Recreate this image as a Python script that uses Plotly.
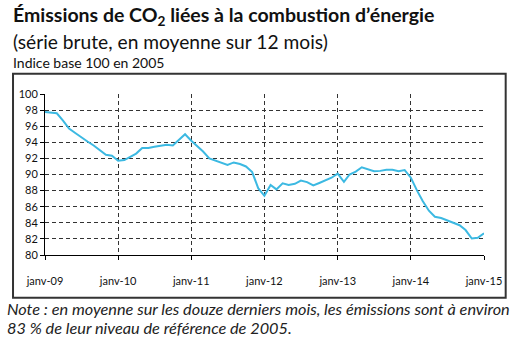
import plotly.graph_objects as go
import pandas as pd

# Monthly index values (base 100 in 2005), Jan 2009 -> Jan 2015
emissions = [
    97.75, 97.7, 97.6, 96.7, 95.7, 95.15, 94.6, 94.1, 93.6, 93.0, 92.45, 92.33,
    91.7, 91.8, 92.2, 92.6, 93.3, 93.3, 93.45, 93.6, 93.7, 93.6, 94.3, 95.0,
    94.2, 93.55, 92.85, 92.0, 91.75, 91.5, 91.2, 91.5, 91.3, 91.0, 90.3, 88.3,
    87.35, 88.7, 88.15, 88.9, 88.7, 88.85, 89.25, 89.05, 88.65, 88.95, 89.3, 89.6,
    90.1, 89.1, 90.0, 90.35, 90.9, 90.65, 90.4, 90.45, 90.6, 90.6, 90.4, 90.55,
    89.6, 88.0, 86.7, 85.5, 84.75, 84.6, 84.3, 84.0, 83.7, 83.1, 82.05, 82.15,
    82.7,
]
months = pd.date_range("2009-01-01", periods=len(emissions), freq="MS")

tick_dates = ["2009-01-01", "2010-01-01", "2011-01-01", "2012-01-01",
              "2013-01-01", "2014-01-01", "2015-01-01"]
tick_labels = ["janv-09", "janv-10", "janv-11", "janv-12", "janv-13", "janv-14", "janv-15"]
y_ticks = [80, 82, 84, 86, 88, 90, 92, 94, 96, 98, 100]

W, H = 515, 340
L, R, T, B = 45, 484.3, 94.3, 255.3
pw, ph = R - L, B - T

def px(x):
    return (x - L) / pw

def py(y):
    return (B - y) / ph

FONT = "Lato"

fig = go.Figure()
fig.add_trace(go.Scatter(
    x=months, y=emissions, mode="lines",
    line=dict(color="#3cb9e2", width=2),
    hoverinfo="skip", showlegend=False,
))

fig.update_layout(
    width=W, height=H,
    margin=dict(l=L, r=W - R, t=T, b=H - B),
    paper_bgcolor="white", plot_bgcolor="white",
    font=dict(family=FONT, color="#111111"),
    xaxis=dict(
        range=["2009-01-01", "2015-01-01"],
        tickvals=tick_dates, ticktext=tick_labels,
        showgrid=True, gridcolor="#333333", gridwidth=1, griddash="4px,3px",
        showline=True, linecolor="#000000", linewidth=1,
        ticks="outside", ticklen=4, tickcolor="#000000",
        ticklabelstandoff=12,
        tickfont=dict(size=11, family=FONT, color="#111111"),
        zeroline=False, fixedrange=True,
    ),
    yaxis=dict(
        range=[80, 100],
        tickvals=y_ticks,
        showgrid=True, gridcolor="#333333", gridwidth=1, griddash="4px,3px",
        showline=True, linecolor="#000000", linewidth=1,
        ticks="outside", ticklen=4, tickcolor="#000000",
        tickfont=dict(size=11, family=FONT, color="#111111"),
        zeroline=False, fixedrange=True,
    ),
)

# Frame around the chart
fig.add_shape(type="rect", xref="paper", yref="paper",
              x0=px(13), x1=px(506), y0=py(298), y1=py(74),
              line=dict(color="#333333", width=2), fillcolor="rgba(0,0,0,0)",
              layer="below")

def note(text, x, y, size, bold=False, italic=False, color="#111111"):
    fig.add_annotation(
        text=text, xref="paper", yref="paper",
        x=px(x), y=py(y), xanchor="left", yanchor="middle",
        showarrow=False, align="left",
        font=dict(family=FONT, size=size, color=color,
                  weight="bold" if bold else "normal",
                  style="italic" if italic else "normal"),
    )

note("Émissions de CO<sub>2</sub> liées à la combustion d’énergie", 11, 16, 19.5, bold=True)
note("(série brute, en moyenne sur 12 mois)", 11, 41.5, 19.2)
note("Indice base 100 en 2005", 11, 62.5, 14)
note("Note : en moyenne sur les douze derniers mois, les émissions sont à environ", 5, 309, 16.3, italic=True, color="#222222")
note("83 % de leur niveau de référence de 2005.", 5, 328, 16.3, italic=True, color="#222222")

fig.write_html("out.html")
